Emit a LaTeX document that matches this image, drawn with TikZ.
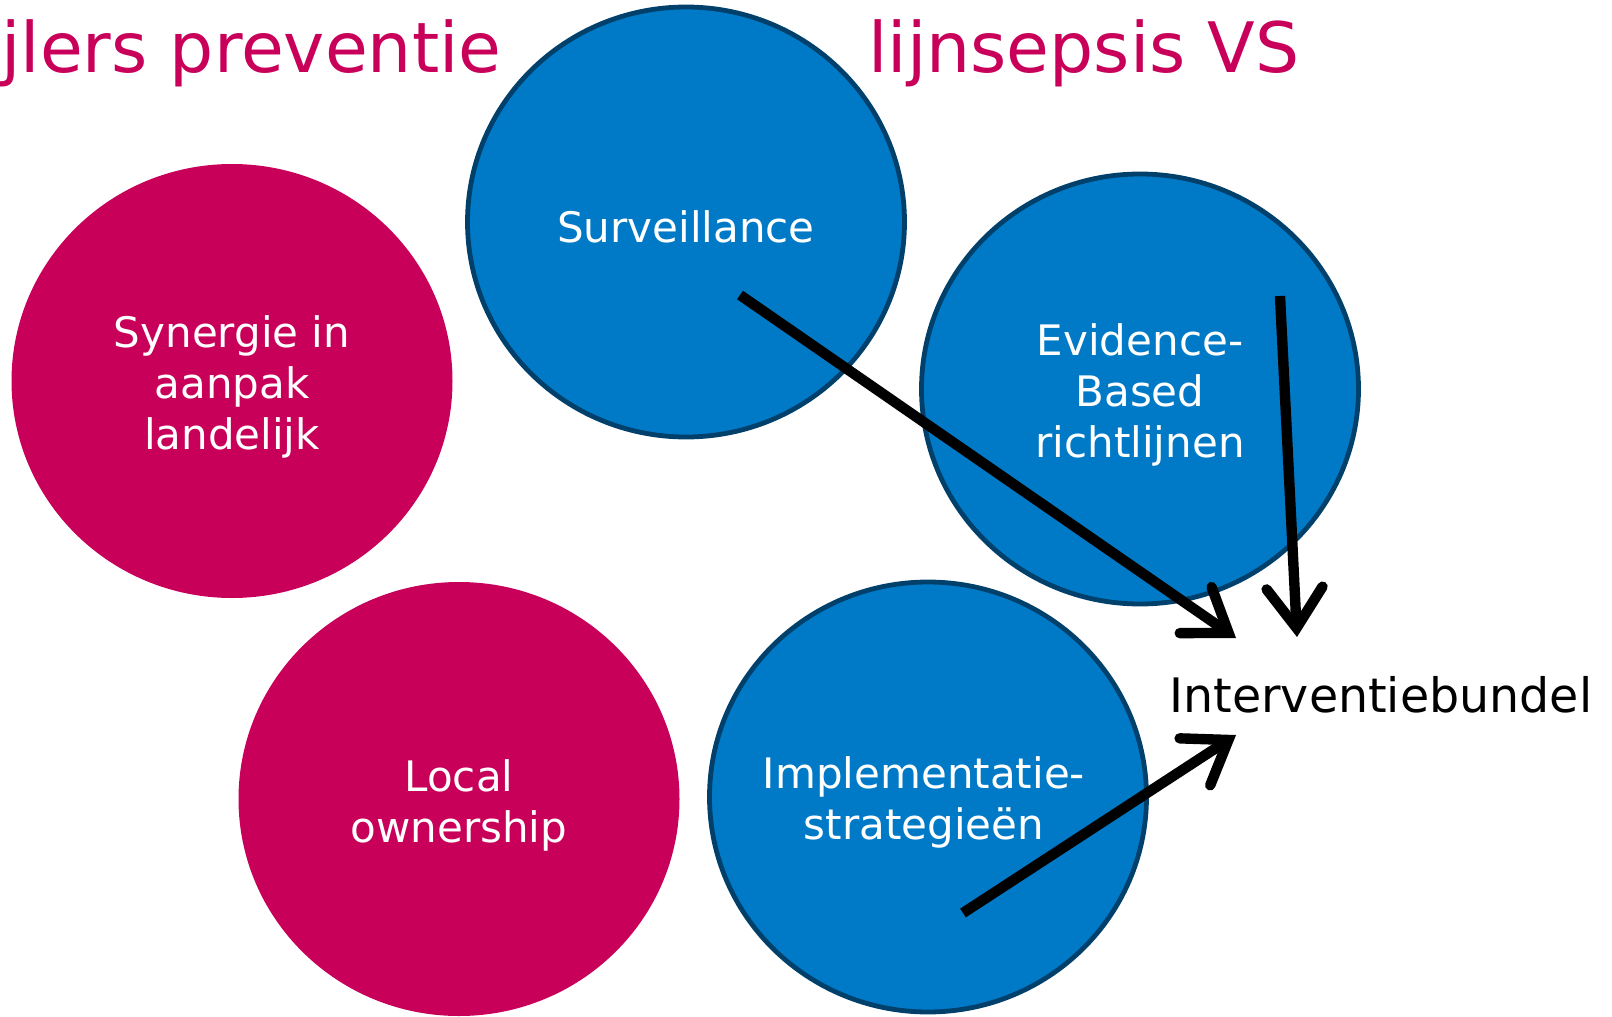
\documentclass[tikz,border=0pt]{standalone}
\usepackage{fontspec}
\setmainfont{DejaVu Sans}
\usetikzlibrary{shapes.geometric,arrows.meta}
\definecolor{pinkc}{RGB}{200,0,90}
\definecolor{bluec}{RGB}{0,122,199}
\definecolor{blueb}{RGB}{0,64,107}
\tikzset{
  pillar/.style={ellipse, minimum width=220.5pt, minimum height=217pt, inner sep=0pt,
    inner xsep=-60pt, inner ysep=-30pt,
    align=center, text=white, font=\fontsize{21}{25.5}\selectfont},
  pinkcirc/.style={pillar, fill=pinkc},
  bluecirc/.style={pillar, fill=bluec, draw=blueb, line width=2.4pt, minimum width=218.5pt, minimum height=215pt},
  pillartext/.style={align=center, text=white, inner sep=0pt, font=\fontsize{21}{25.5}\selectfont},
  bigarrow/.style={draw=black, line width=5.2pt,
    -{Straight Barb[length=20pt,width=28pt,line cap=round,line join=miter]}},
  titletext/.style={text=pinkc, inner sep=0pt, anchor=base west, font=\fontsize{34.8}{40}\selectfont}
}
\begin{document}
\begin{tikzpicture}[x=0.5pt,y=-0.5pt]
\useasboundingbox (0,0) rectangle (1612,1017);
\node[titletext] (t1) at (1,72) {jlers preventie};
\node[titletext] (t2) at (868,72) {lijnsepsis VS};
\node[pinkcirc] (syn) at (232,381) {};
\node[pinkcirc] (loc) at (459,799) {};
\node[bluecirc] (sur) at (686,222) {};
\node[bluecirc] (evi) at (1140,389) {};
\node[bluecirc] (imp) at (928,797) {};
\node[pillartext] (synt) at (232,387) {Synergie in\\aanpak\\landelijk};
\node[pillartext] (loct) at (459,805) {Local\\ownership};
\node[pillartext] (surt) at (686,227) {Surveillance};
\node[pillartext] (evit) at (1140,395) {Evidence-\\Based\\richtlijnen};
\node[pillartext] (impt) at (924,802) {Implementatie-\\strategieën};
\node[inner sep=0pt, anchor=base west, font=\fontsize{23.75}{28}\selectfont] (ib) at (1169,712) {Interventiebundel};
\coordinate (s1) at (740,295);
\coordinate (e1) at (1236,638);
\coordinate (s2) at (1280,296);
\coordinate (e2) at (1297,637);
\coordinate (s3) at (963,913);
\coordinate (e3) at (1236,735);
\draw[bigarrow] (s1) -- (e1);
\draw[bigarrow] (s2) -- (e2);
\draw[bigarrow] (s3) -- (e3);
\end{tikzpicture}
\end{document}
